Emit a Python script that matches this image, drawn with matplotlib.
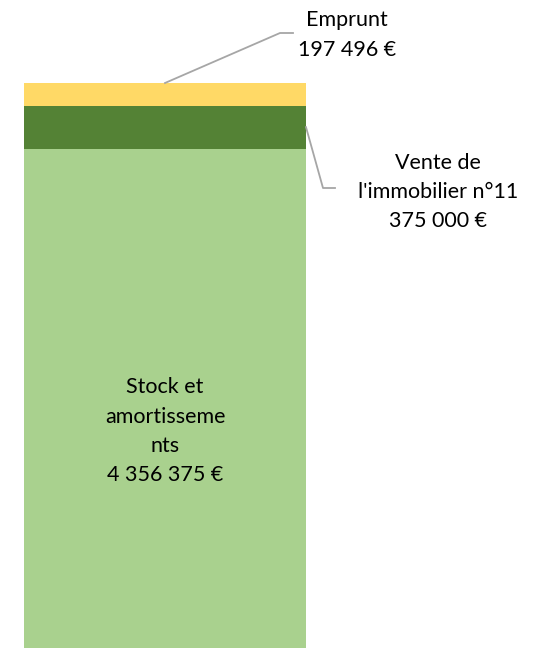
import matplotlib
matplotlib.use("Agg")
import matplotlib.pyplot as plt

# stacked bar, bottom to top
labels = ["Stock et\namortisseme\nnts", "Vente de\nl'immobilier n°11", "Emprunt"]
values = [4356375, 375000, 197496]
colors = ["#A9D18E", "#548235", "#FFD966"]

W, H = 542, 649
plt.rcParams['font.family'] = ['Lato', 'DejaVu Sans']

fig = plt.figure(figsize=(W / 100, H / 100), dpi=100)
ax = fig.add_axes([0, 0, 1, 1])
ax.axis("off")

total = sum(values)
scale = total / 565.0
ax.set_xlim(0, W)
ax.set_ylim(-1 * scale, total + 83 * scale)

bar_x, bar_w = 165, 282
bottoms = []
b = 0
for v, c in zip(values, colors):
    ax.bar(bar_x, v, width=bar_w, bottom=b, color=c, linewidth=0)
    bottoms.append(b)
    b += v


def fmt(v):
    return f"{v:,.0f}".replace(",", " ") + " €"


def fig_pt(x, y_top):
    # pixel coords from the top-left corner -> figure fraction
    return x / W, 1 - y_top / H


def data_y(y_top):
    return ax.transData.inverted().transform(fig.transFigure.transform(fig_pt(0, y_top)))[1]


FS = 15.5
LS = 1.58
txt_kw = dict(fontsize=FS, color="#000000", ha="center", va="center", linespacing=LS)

# stock label inside the bar (sits a bit below the segment centre)
ax.text(bar_x, bottoms[0] + values[0] / 2 - 33 * scale,
        labels[0] + "\n" + fmt(values[0]), **txt_kw)

# emprunt leader + label
top_y = total
ax.plot([165, 280, 293], [top_y, data_y(33), data_y(33)],
        color="#A6A6A6", linewidth=1.3, clip_on=False)
fig.text(*fig_pt(347, 35), labels[2] + "\n" + fmt(values[2]), **txt_kw)

# vente leader + label
mid_y = bottoms[1] + values[1] * 0.5
ax.plot([306, 323, 335], [mid_y, data_y(188), data_y(188)],
        color="#A6A6A6", linewidth=1.3, clip_on=False)
fig.text(*fig_pt(438, 192), labels[1] + "\n" + fmt(values[1]), **txt_kw)

fig.savefig("out.png", dpi=100)
